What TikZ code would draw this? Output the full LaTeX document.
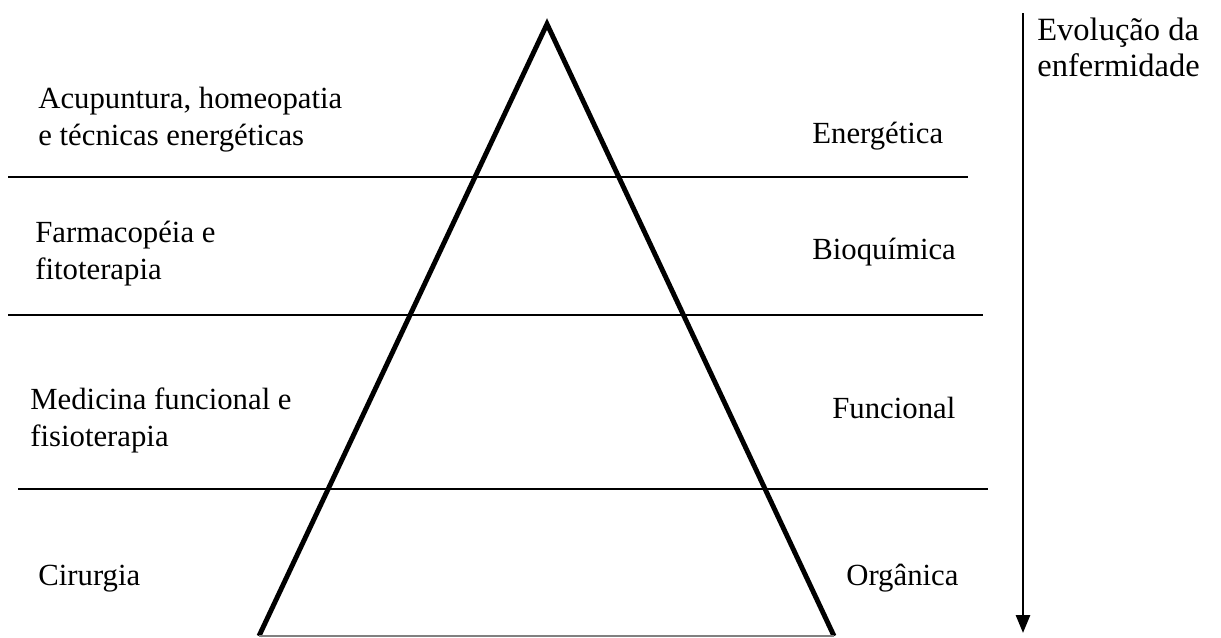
\documentclass[tikz,border=0pt]{standalone}
\usepackage{fontspec}
\setmainfont{Liberation Serif}
\usetikzlibrary{arrows.meta, positioning, calc}
\tikzset{
         mytext/.style={anchor=west, inner sep=0pt, align=left, font=\fontsize{17.5}{21}\selectfont},
         mybig/.style={mytext, font=\fontsize{18.5}{20.5}\selectfont},
         myrule/.style={draw, line width=1.1pt},
         myside/.style={draw, line width=2.8pt, line join=miter, miter limit=20},
         mybase/.style={draw=gray, line width=0.6pt},
         myarrow/.style={draw, line width=1.6pt, -{Triangle[length=3.6mm, width=2.8mm]}}
      }
\begin{document}
\begin{tikzpicture}[x=0.02cm, y=-0.02cm]
  \useasboundingbox (0,0) rectangle (1221,637);

  % pyramid
  \coordinate (apex) at (547,24);
  \coordinate (baseL) at (259,636);
  \coordinate (baseR) at (834,636);
  \draw[myside] (baseL) -- (apex) -- (baseR);
  \draw[mybase] (baseL) -- (baseR);

  % level separators
  \draw[myrule] (8,177) -- (968,177);
  \draw[myrule] (8,315) -- (983,315);
  \draw[myrule] (18,489) -- (988,489);

  % therapies (left)
  \node[mytext] (acup) at (38,120) {Acupuntura, homeopatia\\e técnicas energéticas};
  \node[mytext] (farm) at (35,254) {Farmacopéia e\\fitoterapia};
  \node[mytext] (medf) at (30,420) {Medicina funcional e\\fisioterapia};
  \node[mytext] (ciru) at (38,579) {Cirurgia};

  % disease levels (right)
  \node[mytext] (ener) at (812,136) {Energética};
  \node[mytext] (bioq) at (812,252) {Bioquímica};
  \node[mytext] (func) at (832,408) {Funcional};
  \node[mytext] (orga) at (846,578) {Orgânica};

  % evolution arrow
  \coordinate (evtop) at (1023,13);
  \coordinate (evbot) at (1023,633);
  \draw[myarrow] (evtop) -- (evbot);
  \node[mybig] (evol) at (1037,47) {Evolução da\\enfermidade};
\end{tikzpicture}
\end{document}
